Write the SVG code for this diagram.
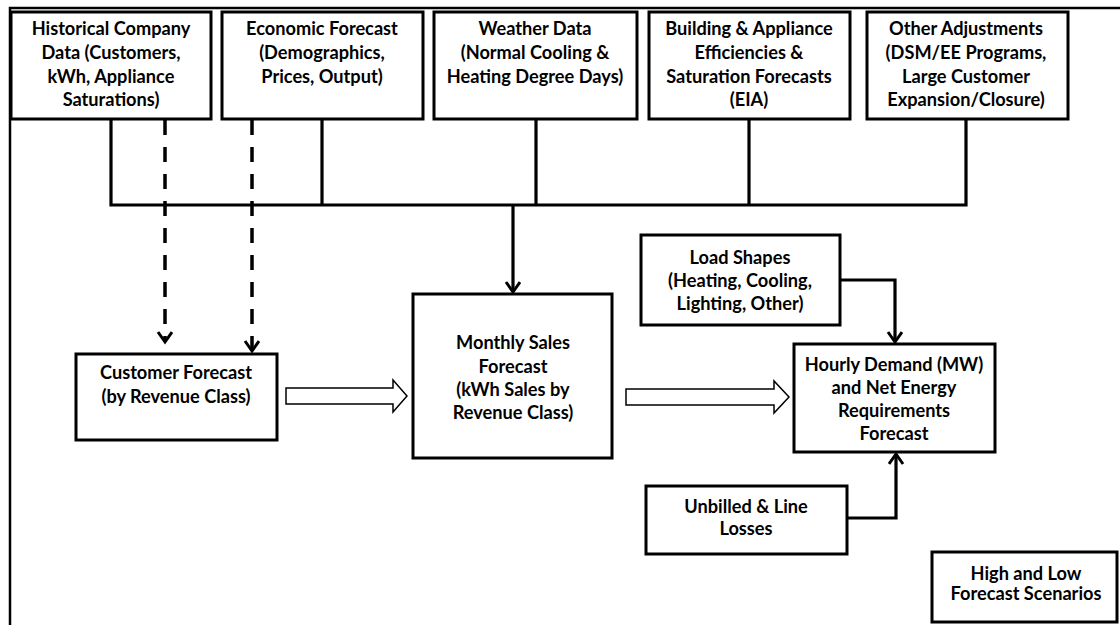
<svg xmlns="http://www.w3.org/2000/svg" width="1120" height="625" viewBox="0 0 1120 625">
<style>
.box{fill:#fff;stroke:#000;stroke-width:3}
.t{font-family:Lato,"Liberation Sans",sans-serif;font-weight:bold;font-size:18.2px;fill:#000;text-anchor:middle}
.ln{fill:none;stroke:#000;stroke-width:3.2}
.dash{fill:none;stroke:#000;stroke-width:3.5;stroke-dasharray:15 12}
.blk{fill:#fff;stroke:#000;stroke-width:1.5;stroke-linejoin:miter}
</style>
<defs>
<marker id="ah" markerUnits="userSpaceOnUse" markerWidth="20" markerHeight="20" refX="11" refY="8" orient="auto">
<path d="M1,1 L11,8 L1,15" fill="none" stroke="#000" stroke-width="3"/>
</marker>
</defs>
<rect width="1120" height="625" fill="#fff"/>
<path d="M10,625 V8 H1120" fill="none" stroke="#000" stroke-width="2.5"/>
<g id="connectors">
<path class="ln" d="M111,119 V205 H966 V119"/>
<path class="ln" d="M322,119 V205"/>
<path class="ln" d="M536,119 V205"/>
<path class="ln" d="M749,119 V205"/>
<path class="ln" d="M513,205 V292" marker-end="url(#ah)"/>
<path class="dash" d="M165,120 V342" marker-end="url(#ah)"/>
<path class="dash" d="M252,120 V351" marker-end="url(#ah)"/>
<path class="ln" d="M840,280 H895 V342" marker-end="url(#ah)"/>
<path class="ln" d="M847,518 H896 V454" marker-end="url(#ah)"/>
<path class="blk" d="M286,388 H393 V380 L407,396 L393,412 V404 H286 Z"/>
<path class="blk" d="M626,389 H774 V381 L789,397 L774,413 V405 H626 Z"/>
</g>
<g id="historical">
<rect class="box" x="11" y="12" width="200" height="107"/>
<text class="t" x="111" y="35">Historical Company</text>
<text class="t" x="111" y="59">Data (Customers,</text>
<text class="t" x="111" y="83">kWh, Appliance</text>
<text class="t" x="111" y="106">Saturations)</text>
</g>
<g id="economic">
<rect class="box" x="222" y="12" width="201" height="107"/>
<text class="t" x="322" y="35">Economic Forecast</text>
<text class="t" x="322" y="59">(Demographics,</text>
<text class="t" x="322" y="83">Prices, Output)</text>
</g>
<g id="weather">
<rect class="box" x="434" y="12" width="203" height="107"/>
<text class="t" x="535" y="35">Weather Data</text>
<text class="t" x="535" y="59">(Normal Cooling &amp;</text>
<text class="t" x="535" y="83">Heating Degree Days)</text>
</g>
<g id="building">
<rect class="box" x="649" y="12" width="201" height="107"/>
<text class="t" x="749" y="35">Building &amp; Appliance</text>
<text class="t" x="749" y="59">Efficiencies &amp;</text>
<text class="t" x="749" y="83">Saturation Forecasts</text>
<text class="t" x="749" y="106">(EIA)</text>
</g>
<g id="other">
<rect class="box" x="867" y="12" width="201" height="107"/>
<text class="t" x="966" y="35">Other Adjustments</text>
<text class="t" x="966" y="59">(DSM/EE Programs,</text>
<text class="t" x="966" y="83">Large Customer</text>
<text class="t" x="966" y="106">Expansion/Closure)</text>
</g>
<g id="customer">
<rect class="box" x="76" y="354" width="201" height="86"/>
<text class="t" x="176" y="379">Customer Forecast</text>
<text class="t" x="176" y="403">(by Revenue Class)</text>
</g>
<g id="monthly">
<rect class="box" x="413" y="294" width="199" height="164"/>
<text class="t" x="513" y="349">Monthly Sales</text>
<text class="t" x="513" y="373">Forecast</text>
<text class="t" x="513" y="396">(kWh Sales by</text>
<text class="t" x="513" y="419">Revenue Class)</text>
</g>
<g id="loadshapes">
<rect class="box" x="641" y="235" width="199" height="90"/>
<text class="t" x="740" y="264">Load Shapes</text>
<text class="t" x="740" y="287">(Heating, Cooling,</text>
<text class="t" x="740" y="310">Lighting, Other)</text>
</g>
<g id="hourly">
<rect class="box" x="794" y="344" width="201" height="108"/>
<text class="t" x="894" y="371">Hourly Demand (MW)</text>
<text class="t" x="894" y="394">and Net Energy</text>
<text class="t" x="894" y="417">Requirements</text>
<text class="t" x="894" y="440">Forecast</text>
</g>
<g id="unbilled">
<rect class="box" x="646" y="486" width="201" height="68"/>
<text class="t" x="746" y="513">Unbilled &amp; Line</text>
<text class="t" x="746" y="535">Losses</text>
</g>
<g id="highlow">
<rect class="box" x="932" y="552" width="185" height="70"/>
<text class="t" x="1026" y="580">High and Low</text>
<text class="t" x="1026" y="600">Forecast Scenarios</text>
</g>
</svg>
